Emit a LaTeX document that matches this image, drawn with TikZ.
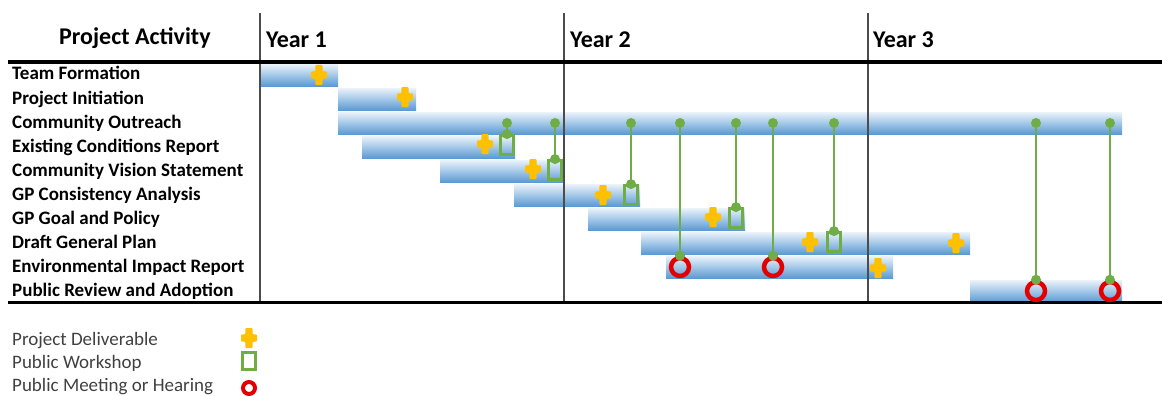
\documentclass[tikz,border=0pt]{standalone}
\usepackage{fontspec}
\setmainfont{Carlito}
\definecolor{barblue}{RGB}{91,155,213}
\definecolor{delivyellow}{RGB}{255,192,0}
\definecolor{wsgreen}{RGB}{112,173,71}
\definecolor{mtred}{RGB}{226,0,0}
\definecolor{legendgray}{RGB}{64,64,64}
\tikzset{>=stealth}
\tikzset{
  rowlabel/.style={anchor=base west, inner sep=0pt, font=\fontsize{19}{19}\selectfont\bfseries},
  headlabel/.style={anchor=base west, inner sep=0pt, font=\fontsize{24}{24}\selectfont\bfseries},
  legendlabel/.style={anchor=base west, inner sep=0pt, text=legendgray, font=\fontsize{19}{19}\selectfont},
  ganttbar/.style={top color=barblue!12, bottom color=barblue},
  yearline/.style={draw=black!70, line width=1.3pt},
  rule/.style={draw=black, line width=3.5pt},
  wshop/.style={draw=wsgreen, line width=2.8pt, rectangle, minimum width=12.5pt, minimum height=19pt, inner sep=0pt},
  meeting/.style={draw=mtred, line width=4.5pt, circle, minimum size=18pt, inner sep=0pt},
  gdot/.style={fill=wsgreen, circle, minimum size=10pt, inner sep=0pt},
  link/.style={draw=wsgreen, line width=2.8pt},
  deliv/.pic={
    \fill[delivyellow, rounded corners=1pt] (-3.6,-10) -- (3.6,-10) -- (3.6,-3.6) -- (8,-3.6)
      -- (8,3.6) -- (3.6,3.6) -- (3.6,10) -- (-3.6,10) -- (-3.6,3.6) -- (-8,3.6)
      -- (-8,-3.6) -- (-3.6,-3.6) -- cycle;
  }
}

\begin{document}
\begin{tikzpicture}[x=1pt, y=-1pt]
    \useasboundingbox (0,0) rectangle (1162,396);

    % bars: start / end / row centre
    \foreach \xa/\xb/\yc in {260/338/75, 338/416/99, 338/1122/123, 362/515/147, 440/563/171,
                             514/640/195, 588/745/219, 641/970/243, 666/893/267, 970/1122/291}
      \shade[ganttbar] (\xa,\yc-11) rectangle (\xb,\yc+11);

    % year separators and rules
    \draw[yearline] (260,13) -- (260,302);
    \draw[yearline] (564,13) -- (564,302);
    \draw[yearline] (868,13) -- (868,302);
    \draw[rule] (8,62) -- (1162,62);
    \draw[rule] (8,302.5) -- (1162,302.5);

    % header
    \node[headlabel] (head) at (59,45) {Project Activity};
    \node[headlabel] (y1) at (266,48) {Year 1};
    \node[headlabel] (y2) at (570,48) {Year 2};
    \node[headlabel] (y3) at (873,48) {Year 3};

    % activities
    \node[rowlabel] (team) at (12,80) {Team Formation};
    \node[rowlabel] (init) at (12,104) {Project Initiation};
    \node[rowlabel] (outreach) at (12,128.5) {Community Outreach};
    \node[rowlabel] (exist) at (12,152.5) {Existing Conditions Report};
    \node[rowlabel] (vision) at (12,176.5) {Community Vision Statement};
    \node[rowlabel] (consist) at (12,200.5) {GP Consistency Analysis};
    \node[rowlabel] (goal) at (12,224.5) {GP Goal and Policy};
    \node[rowlabel] (draft) at (12,248.5) {Draft General Plan};
    \node[rowlabel] (eir) at (12,272.5) {Environmental Impact Report};
    \node[rowlabel] (review) at (12,296.5) {Public Review and Adoption};

    % deliverables
    \pic at (319,75) {deliv};
    \pic at (405,97) {deliv};
    \pic at (485,144) {deliv};
    \pic at (533,169) {deliv};
    \pic at (603,195) {deliv};
    \pic at (713,217) {deliv};
    \pic at (810,242) {deliv};
    \pic at (956,243) {deliv};
    \pic at (878,268) {deliv};

    % workshops and meetings
    \node[wshop] (ws1) at (507,145) {};
    \node[wshop] (ws2) at (555,170) {};
    \node[wshop] (ws3) at (631,195) {};
    \node[wshop] (ws4) at (736,218) {};
    \node[wshop] (ws5) at (834,242) {};
    \node[meeting] (mt1) at (680,267) {};
    \node[meeting] (mt2) at (773,267) {};
    \node[meeting] (mt3) at (1036,291) {};
    \node[meeting] (mt4) at (1110,291) {};

    % outreach links
    \node[gdot] (o1) at (507,123) {};
    \node[gdot] (o2) at (555,123) {};
    \node[gdot] (o3) at (631,123) {};
    \node[gdot] (o4) at (680,123) {};
    \node[gdot] (o5) at (736,123) {};
    \node[gdot] (o6) at (773,123) {};
    \node[gdot] (o7) at (834,123) {};
    \node[gdot] (o8) at (1036,123) {};
    \node[gdot] (o9) at (1110,123) {};
    \draw[link] (o1) -- (ws1.north);
    \draw[link] (o2) -- (ws2.north);
    \draw[link] (o3) -- (ws3.north);
    \draw[link] (o4) -- (mt1.north);
    \draw[link] (o5) -- (ws4.north);
    \draw[link] (o6) -- (mt2.north);
    \draw[link] (o7) -- (ws5.north);
    \draw[link] (o8) -- (mt3.north);
    \draw[link] (o9) -- (mt4.north);
    \node[gdot] (e1) at (ws1.north) {};
    \node[gdot] (e2) at (ws2.north) {};
    \node[gdot] (e3) at (ws3.north) {};
    \node[gdot] (e4) at (mt1.north) {};
    \node[gdot] (e5) at (ws4.north) {};
    \node[gdot] (e6) at (mt2.north) {};
    \node[gdot] (e7) at (ws5.north) {};
    \node[gdot] (e8) at (mt3.north) {};
    \node[gdot] (e9) at (mt4.north) {};

    % legend
    \node[legendlabel] (lgdeliv) at (12,345) {Project Deliverable};
    \node[legendlabel] (lgws) at (12,368.5) {Public Workshop};
    \node[legendlabel] (lgmt) at (12,391) {Public Meeting or Hearing};
    \pic at (249,338) {deliv};
    \node[wshop, minimum width=13pt, minimum height=17pt] (lgwsbox) at (249,361) {};
    \node[meeting, minimum size=12pt, line width=4pt] (lgmtring) at (249,388) {};
\end{tikzpicture}
\end{document}
